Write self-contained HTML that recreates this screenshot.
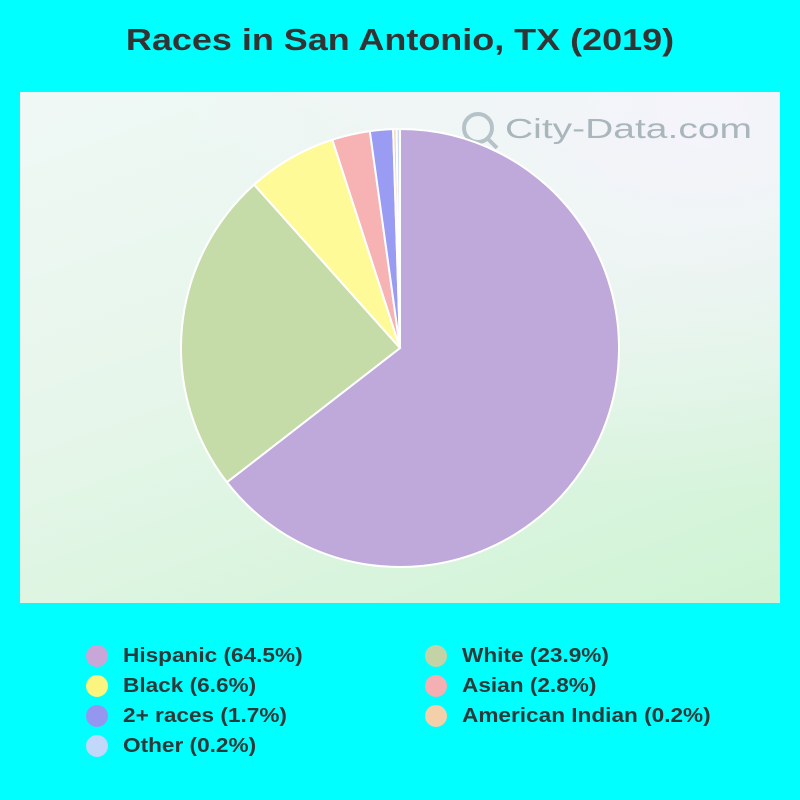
<!DOCTYPE html>
<html><head><style>
body{margin:0;width:800px;height:800px;background:#00ffff;font-family:"Liberation Sans",Arial,sans-serif;position:relative;overflow:hidden}
.t{position:absolute;top:22px;left:0;width:800px;text-align:center;font-weight:bold;font-size:31px;color:#333;transform:scaleX(1.16);transform-origin:400px 0}
.bg{position:absolute;left:20px;top:92px;width:760px;height:511px;background:linear-gradient(160deg,#f0f8f6 0%,#e6f6ea 45%,#cff3d4 100%)}
.bg2{position:absolute;left:20px;top:92px;width:760px;height:511px;background:radial-gradient(ellipse at 90% 5%,rgba(245,244,252,0.95),rgba(245,244,252,0) 55%)}
.l{position:absolute;font-weight:bold;font-size:20px;color:#2a3a3a;transform:scaleX(1.13);transform-origin:0 0;white-space:nowrap}
.d{position:absolute;width:22px;height:22px;border-radius:50%}
</style></head><body>
<div class="t">Races in San Antonio, TX (2019)</div>
<div class="bg"></div><div class="bg2"></div>
<svg style="position:absolute;left:0;top:0" width="800" height="800">
<g font-family="Liberation Sans, Arial, sans-serif" fill="#a9b7bd">
<circle cx="478" cy="128" r="14" fill="none" stroke="#b5c3c8" stroke-width="4"/>
<line x1="488" y1="139" x2="497" y2="148" stroke="#b5c3c8" stroke-width="4"/>
<text x="505" y="138" font-size="28" textLength="247" lengthAdjust="spacingAndGlyphs">City-Data.com</text></g>
</svg>
<svg style="position:absolute;left:0;top:0" width="800" height="800" id="pie"></svg>
<script>
var cx=400,cy=348,r=219;
var d=[[64.5,"#bfa8da"],[23.9,"#c5dba8"],[6.6,"#fffa98"],[2.8,"#f7b2b4"],[1.7,"#9a9cf3"],[0.25,"#f5cfb0"],[0.25,"#cbd9fb"]];
var a=0,s="";
function pt(t){t=t/100*2*Math.PI;return [cx+r*Math.sin(t),cy-r*Math.cos(t)];}
d.forEach(function(x){var p1=pt(a);a+=x[0];var p2=pt(a);
s+='<path d="M'+cx+','+cy+'L'+p1[0]+','+p1[1]+'A'+r+','+r+' 0 '+(x[0]>50?1:0)+' 1 '+p2[0]+','+p2[1]+'Z" fill="'+x[1]+'" stroke="#fff" stroke-width="2"/>';});
document.getElementById('pie').innerHTML=s;
</script>
<div class="d" style="left:86px;top:645px;background:#c9a6d8"></div><div class="l" style="left:123px;top:645px">Hispanic (64.5%)</div>
<div class="d" style="left:86px;top:675px;background:#fbf47e"></div><div class="l" style="left:123px;top:675px">Black (6.6%)</div>
<div class="d" style="left:86px;top:705px;background:#9596ef"></div><div class="l" style="left:123px;top:705px">2+ races (1.7%)</div>
<div class="d" style="left:86px;top:735px;background:#c2d8fa"></div><div class="l" style="left:123px;top:735px">Other (0.2%)</div>
<div class="d" style="left:425px;top:645px;background:#c3d3a6"></div><div class="l" style="left:462px;top:645px">White (23.9%)</div>
<div class="d" style="left:425px;top:675px;background:#f5aeb1"></div><div class="l" style="left:462px;top:675px">Asian (2.8%)</div>
<div class="d" style="left:425px;top:705px;background:#f3cfaa"></div><div class="l" style="left:462px;top:705px">American Indian (0.2%)</div>
</body></html>
